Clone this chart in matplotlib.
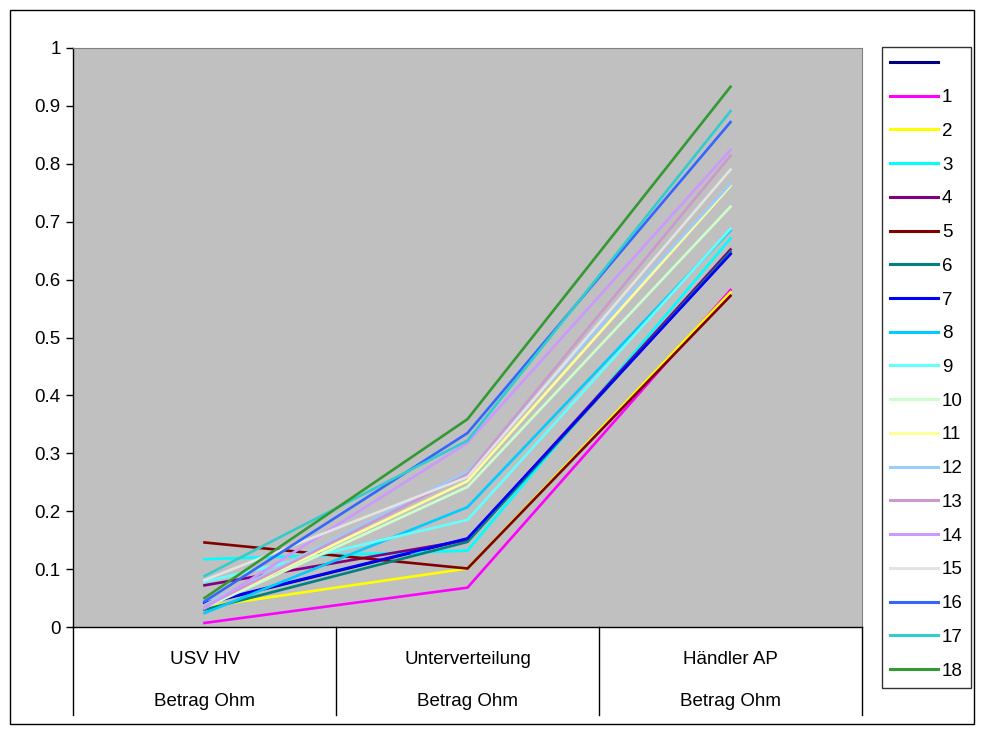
import matplotlib
matplotlib.use("Agg")
import matplotlib.pyplot as plt
from matplotlib.patches import Rectangle

plt.rcParams['font.family'] = ['Liberation Sans', 'DejaVu Sans']

# categories on the x axis (two text rows each)
categories = ["USV HV", "Unterverteilung", "Händler AP"]
subtitle = "Betrag Ohm"

# series labels, colours and values (one value per category)
labels = [" ", "1", "2", "3", "4", "5", "6", "7", "8", "9",
          "10", "11", "12", "13", "14", "15", "16", "17", "18"]
colors = ["#000080", "#FF00FF", "#FFFF00", "#00FFFF", "#800080", "#800000",
          "#008080", "#0000FF", "#00CCFF", "#66FFFF", "#CCFFCC", "#FFFF99",
          "#99CCFF", "#CC99CC", "#CC99FF", "#E3E3E3", "#3366FF", "#33CCCC",
          "#339933"]
s0 = [0.040, 0.152, 0.645]
s1 = [0.007, 0.068, 0.582]
s2 = [0.035, 0.101, 0.578]
s3 = [0.117, 0.132, 0.671]
s4 = [0.072, 0.150, 0.652]
s5 = [0.146, 0.101, 0.572]
s6 = [0.030, 0.147, 0.648]
s7 = [0.041, 0.153, 0.644]
s8 = [0.024, 0.207, 0.685]
s9 = [0.078, 0.185, 0.688]
s10 = [0.033, 0.242, 0.726]
s11 = [0.036, 0.252, 0.762]
s12 = [0.038, 0.268, 0.765]
s13 = [0.035, 0.264, 0.814]
s14 = [0.032, 0.318, 0.824]
s15 = [0.081, 0.259, 0.790]
s16 = [0.044, 0.335, 0.872]
s17 = [0.088, 0.322, 0.891]
s18 = [0.050, 0.359, 0.933]
series = [s0, s1, s2, s3, s4, s5, s6, s7, s8, s9, s10,
          s11, s12, s13, s14, s15, s16, s17, s18]

W, H = 984, 734
fig = plt.figure(figsize=(W / 100, H / 100), dpi=100)
fig.patch.set_facecolor("white")
fig.patches.append(Rectangle((10 / W, 10 / H), 964 / W, 714 / H,
                             transform=fig.transFigure, fill=False,
                             edgecolor="black", linewidth=1))

ax = fig.add_axes([73 / W, 1 - 627 / H, (862 - 73) / W, (627 - 48) / H])
ax.set_facecolor("#C0C0C0")

x = list(range(len(categories)))
for lab, col, vals in zip(labels, colors, series):
    ax.plot(x, vals, color=col, linewidth=1.9, label=lab,
            solid_joinstyle="miter")

ax.set_xlim(-0.5, len(categories) - 0.5)
ax.set_ylim(0, 1)
ax.set_yticks([i / 10 for i in range(11)])
ax.set_yticklabels(["0"] + [f"{i / 10:g}" for i in range(1, 10)] + ["1"])
ax.tick_params(axis="y", length=5, width=1, pad=4, labelsize=13.5)
ax.set_xticks([])

for side in ["top", "right"]:
    ax.spines[side].set_color("#808080")
for side in ["left", "bottom"]:
    ax.spines[side].set_color("black")
    ax.spines[side].set_linewidth(1)

# category separators and labels below the plot area
trans = ax.get_xaxis_transform()
for b in [i - 0.5 for i in range(len(categories) + 1)]:
    ax.plot([b, b], [0, -88 / 579], color="black", linewidth=1,
            transform=trans, clip_on=False)
for i, cat in enumerate(categories):
    ax.text(i, -32 / 579, cat, transform=trans, ha="center", va="center",
            fontsize=13.5)
    ax.text(i, -74 / 579, subtitle, transform=trans, ha="center",
            va="center", fontsize=13.5)

leg = ax.legend(loc="upper left", bbox_to_anchor=(882 / W, 1 - 47 / H),
                bbox_transform=fig.transFigure, borderaxespad=0,
                fontsize=13.5, frameon=True, fancybox=False,
                edgecolor="black", handlelength=2.55, handletextpad=0.2,
                labelspacing=0.885, borderpad=0.45)
leg.get_frame().set_linewidth(1)
for line in leg.get_lines():
    line.set_linewidth(2.2)

fig.savefig("out.png", dpi=100, facecolor="white")
